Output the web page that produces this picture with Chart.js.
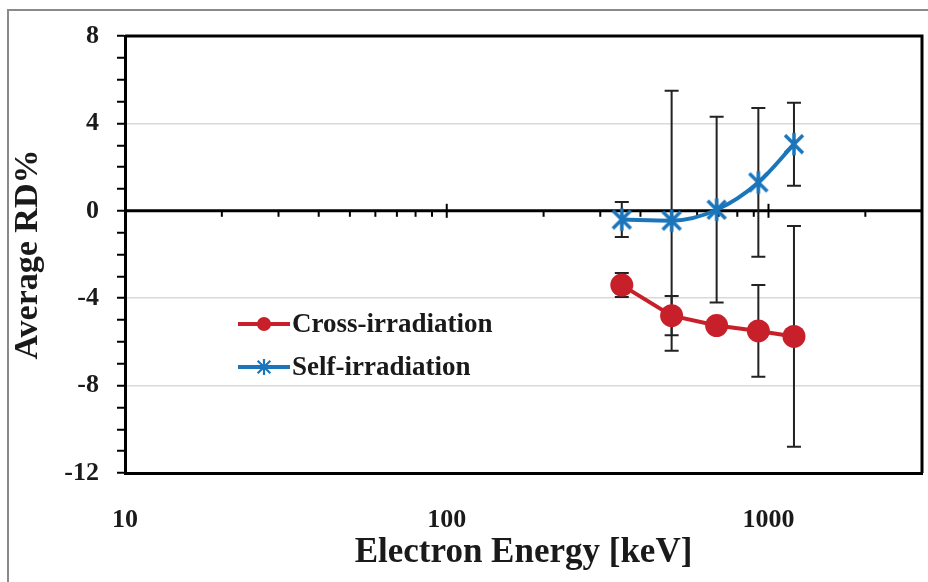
<!DOCTYPE html>
<html><head><meta charset="utf-8">
<script src="https://cdn.jsdelivr.net/npm/chart.js@4.4.1/dist/chart.umd.min.js"></script>
<style>html,body{margin:0;padding:0;background:#fff}#wrap{width:928px;height:582px}</style>
</head><body><div id="wrap"><canvas id="c" width="928" height="582"></canvas></div>
<script>
const energies = [350, 500, 690, 930, 1200];
const crossValues = [-3.4, -4.8, -5.25, -5.5, -5.75];
const crossErrors = [0.55, 0.9, 0.3, 2.1, 5.05];
const selfValues = [-0.4, -0.45, 0.05, 1.3, 3.05];
const selfErrors = [0.8, 5.95, 4.25, 3.4, 1.9];
const xTickLabels = [10, 100, 1000];
const xMin = 10, xMax = 3000;
const xMinorTicks = [20, 30, 40, 50, 60, 70, 80, 90, 200, 300, 400, 500, 600, 700, 800, 900, 2000];
const yTickValues = [-12, -11, -10, -9, -8, -7, -6, -5, -4, -3, -2, -1, 0, 1, 2, 3, 4, 5, 6, 7, 8];
const yLabelValues = [-12, -8, -4, 0, 4, 8];
const yGridValues = [-8, -4, 4];

const SERIF = "'Liberation Serif', 'Times New Roman', serif";
const TXT = '#1a1a1a';
const RED = '#c8202a';
const BLUE = '#1b75bb';

function makeStar(size, color, lw) {
  const cv = document.createElement('canvas');
  cv.width = size; cv.height = size;
  const c = cv.getContext('2d');
  const m = size / 2, r = size / 2 - lw / 2;
  const d = r * 0.8;
  c.strokeStyle = color; c.lineWidth = lw; c.lineCap = 'butt';
  c.beginPath();
  c.moveTo(m - d, m - d); c.lineTo(m + d, m + d);
  c.moveTo(m - d, m + d); c.lineTo(m + d, m - d);
  c.moveTo(m, m - r); c.lineTo(m, m + r);
  c.stroke();
  return cv;
}
const starImg = makeStar(26, BLUE, 3.5);
const starLegend = makeStar(18, BLUE, 2.2);

const decorPlugin = {
  id: 'decor',
  beforeDraw(chart) {
    const c = chart.ctx;
    c.save();
    c.fillStyle = '#fff';
    c.fillRect(0, 0, chart.width, chart.height);
    c.strokeStyle = '#8a8a8a';
    c.lineWidth = 2;
    c.beginPath();
    c.moveTo(8, chart.height); c.lineTo(8, 10); c.lineTo(chart.width, 10);
    c.stroke();
    c.restore();
  },
  beforeDatasetsDraw(chart) {
    const c = chart.ctx;
    const xs = chart.scales.x, ys = chart.scales.y;
    const a = chart.chartArea;
    const y0 = ys.getPixelForValue(0);
    c.save();
    c.strokeStyle = '#000';
    c.lineWidth = 3;
    c.beginPath(); c.moveTo(a.left, y0); c.lineTo(a.right, y0); c.stroke();
    c.lineWidth = 2;
    xMinorTicks.forEach(v => {
      const px = xs.getPixelForValue(v);
      c.beginPath(); c.moveTo(px, y0); c.lineTo(px, y0 + 6); c.stroke();
    });
    xTickLabels.forEach(v => {
      const px = xs.getPixelForValue(v);
      c.beginPath(); c.moveTo(px, y0 - 7); c.lineTo(px, y0 + 7); c.stroke();
    });
    c.strokeStyle = '#222';
    c.lineWidth = 2;
    chart.data.datasets.forEach(ds => {
      ds.data.forEach((p, i) => {
        const e = ds.errors[i];
        const px = xs.getPixelForValue(p.x);
        const pt = ys.getPixelForValue(p.y + e);
        const pb = ys.getPixelForValue(p.y - e);
        c.beginPath();
        c.moveTo(px, pt); c.lineTo(px, pb);
        c.moveTo(px - 7, pt); c.lineTo(px + 7, pt);
        c.moveTo(px - 7, pb); c.lineTo(px + 7, pb);
        c.stroke();
      });
    });
    c.restore();
  },
  afterDraw(chart) {
    const c = chart.ctx;
    const a = chart.chartArea;
    c.save();
    c.strokeStyle = '#000';
    c.lineWidth = 3;
    c.beginPath();
    c.moveTo(a.left, a.top); c.lineTo(a.right, a.top); c.lineTo(a.right, a.bottom);
    c.stroke();
    const items = [
      { ds: chart.data.datasets[0], y: 324 },
      { ds: chart.data.datasets[1], y: 367 }
    ];
    items.forEach(it => {
      c.strokeStyle = it.ds.borderColor;
      c.lineWidth = 4;
      c.beginPath(); c.moveTo(238, it.y); c.lineTo(290, it.y); c.stroke();
      if (it.ds.label === 'Cross-irradiation') {
        c.fillStyle = it.ds.borderColor;
        c.beginPath(); c.arc(264, it.y, 7, 0, Math.PI * 2); c.fill();
      } else {
        c.drawImage(starLegend, 264 - 9, it.y - 9);
      }
      c.fillStyle = TXT;
      c.font = "bold 27px " + SERIF;
      c.textAlign = 'left';
      c.textBaseline = 'middle';
      c.fillText(it.ds.label, 292, it.y + 1);
    });
    c.restore();
  }
};

new Chart(document.getElementById('c'), {
  type: 'line',
  data: {
    datasets: [
      {
        label: 'Cross-irradiation',
        data: energies.map((x, i) => ({ x: x, y: crossValues[i] })),
        errors: crossErrors,
        borderColor: RED, backgroundColor: RED,
        borderWidth: 4, pointStyle: 'circle', pointRadius: 11.5,
        pointBorderWidth: 0, pointBackgroundColor: RED, tension: 0
      },
      {
        label: 'Self-irradiation',
        data: energies.map((x, i) => ({ x: x, y: selfValues[i] })),
        errors: selfErrors,
        borderColor: BLUE, backgroundColor: BLUE,
        borderWidth: 4, pointStyle: starImg, pointRadius: 12,
        cubicInterpolationMode: 'monotone'
      }
    ]
  },
  options: {
    responsive: false,
    animation: false,
    devicePixelRatio: 1,
    layout: { autoPadding: false, padding: { left: 0, top: 36, right: 6, bottom: 0 } },
    plugins: { legend: { display: false }, tooltip: { enabled: false } },
    scales: {
      x: {
        type: 'logarithmic', min: xMin, max: xMax,
        afterBuildTicks: s => { s.ticks = xTickLabels.concat([xMax]).map(v => ({ value: v })); },
        afterFit: s => { s.height = 109; s.paddingLeft = 0; s.paddingRight = 0; },
        grid: { display: false, drawTicks: false },
        border: { display: true, color: '#000', width: 3 },
        ticks: {
          padding: 32, color: TXT, autoSkip: false, maxRotation: 0,
          font: { family: SERIF, weight: 'bold', size: 26 },
          callback: v => xTickLabels.includes(v) ? String(v) : ''
        },
        title: {
          display: true, text: 'Electron Energy [keV]', color: TXT,
          font: { family: SERIF, weight: 'bold', size: 35 },
          padding: { top: 0, bottom: 8 }
        }
      },
      y: {
        min: -12, max: 8,
        afterBuildTicks: s => { s.ticks = yTickValues.map(v => ({ value: v })); },
        afterFit: s => { s.width = 125; },
        grid: {
          color: c => (c.tick && yGridValues.includes(c.tick.value)) ? '#d9d9d9' : 'rgba(0,0,0,0)',
          lineWidth: 1.5, tickColor: '#000', tickLength: 8, tickWidth: 2
        },
        border: { display: true, color: '#000', width: 3 },
        ticks: {
          padding: 18, color: TXT, autoSkip: false,
          font: { family: SERIF, weight: 'bold', size: 26 },
          callback: v => yLabelValues.includes(v) ? String(v) : ''
        },
        title: {
          display: true, text: 'Average RD%', color: TXT,
          font: { family: SERIF, weight: 'bold', size: 34 },
          padding: { top: 8, bottom: 0 }
        }
      }
    }
  },
  plugins: [decorPlugin]
});
</script>
</body></html>
